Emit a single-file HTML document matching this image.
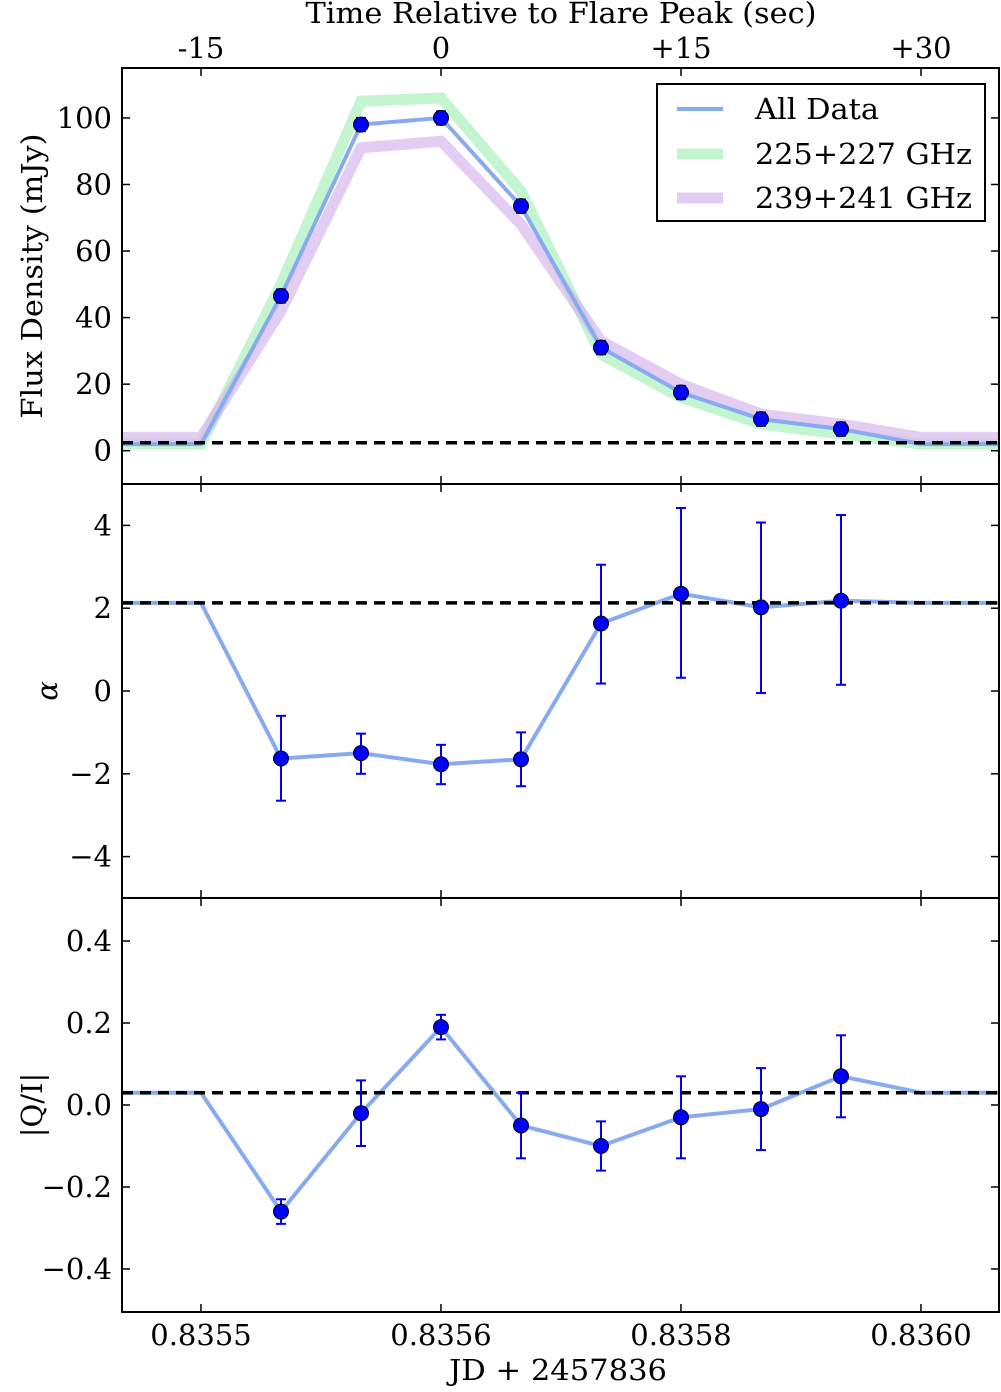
<!DOCTYPE html>
<html><head><meta charset="utf-8"><style>
body{margin:0;background:#fff}
svg text{font-family:"DejaVu Serif","Liberation Serif",serif;font-size:29px;fill:#000}
</style></head><body>
<svg id="chart" width="1001" height="1387" viewBox="0 0 1001 1387" xmlns="http://www.w3.org/2000/svg"></svg>
<script>
const times=[-20,-15,-10,-5,0,5,10,15,20,25,30,35];
const fluxAll=[2,2,46.5,98,100,73.5,31,17.5,9.5,6.5,2,2];
const fluxLow=[2,2,50,105,106,78,29,16,8,5,2,2];
const fluxHigh=[4,4,42,91,93,68,33,20,11,8,4,4];
const ptTimes=[-10,-5,0,5,10,15,20,25];
const fluxPts=[46.5,98,100,73.5,31,17.5,9.5,6.5];
const fluxErr=[2,2,2,2,2,2,2,2];
const alphaLine=[2.13,2.13,-1.63,-1.5,-1.77,-1.65,1.63,2.35,2.02,2.18,2.13,2.13];
const alphaPts=[-1.63,-1.5,-1.77,-1.65,1.63,2.35,2.02,2.18];
const alphaHi=[-0.6,-1.03,-1.3,-1.0,3.05,4.42,4.07,4.25];
const alphaLo=[-2.65,-2.0,-2.25,-2.3,0.18,0.32,-0.05,0.15];
const qiLine=[0.03,0.03,-0.26,-0.02,0.19,-0.05,-0.1,-0.03,-0.01,0.07,0.03,0.03];
const qiPts=[-0.26,-0.02,0.19,-0.05,-0.1,-0.03,-0.01,0.07];
const qiHi=[-0.23,0.06,0.22,0.03,-0.04,0.07,0.09,0.17];
const qiLo=[-0.29,-0.1,0.16,-0.13,-0.16,-0.13,-0.11,-0.03];
const topTicks=[-15,0,15,30];const topLabels=["-15","0","+15","+30"];
const botLabels=["0.8355","0.8356","0.8358","0.8360"];
const fluxTicks=[0,20,40,60,80,100];const alphaTicks=[-4,-2,0,2,4];const qiTicks=[-0.4,-0.2,0.0,0.2,0.4];
const qiLabels=["\u22120.4","\u22120.2","0.0","0.2","0.4"];
const fluxBase=2.4,alphaBase=2.13,qiBase=0.03;
const NS="http://www.w3.org/2000/svg",svg=document.getElementById('chart');
const L=122,R=999;
const X=t=>441+t*16;
function mk(tag,attrs,name,parent){const e=document.createElementNS(NS,tag);for(const k in attrs)e.setAttribute(k,attrs[k]);


(parent||svg).appendChild(e);return e;}
function txt(x,y,s,name,anchor,extra){const t=mk('text',Object.assign({x:x,y:y,'text-anchor':anchor||'middle'},extra||{}),name);t.textContent=s;return t;}
function panel(top,bot,lo,hi,name){
 const Y=v=>bot-(v-lo)/(hi-lo)*(bot-top);
 const g=mk('g',{},name);
 return {Y,g,top,bot};
}
function path(P,vals,Y,style,name){let d='';times.forEach((t,i)=>{d+=(i?'L':'M')+X(t)+','+Y(vals[i]);});
 const p=mk('path',Object.assign({d:d,fill:'none'},style),name,P.g);
 p.setAttribute('clip-path','url(#clip'+P.top+')');}
function dashed(P,v,name){mk('line',{x1:L,x2:R,y1:P.Y(v),y2:P.Y(v),stroke:'#000','stroke-width':3.5,'stroke-dasharray':'11,7'},name,P.g);}
function points(P,vals,hi,lo,name){ptTimes.forEach((t,i)=>{const x=X(t);
 mk('line',{x1:x,x2:x,y1:P.Y(hi[i]),y2:P.Y(lo[i]),stroke:'#0000ee','stroke-width':2},name+'-errbar',P.g);
 mk('line',{x1:x-5,x2:x+5,y1:P.Y(hi[i]),y2:P.Y(hi[i]),stroke:'#0000ee','stroke-width':2},name+'-errcap',P.g);
 mk('line',{x1:x-5,x2:x+5,y1:P.Y(lo[i]),y2:P.Y(lo[i]),stroke:'#0000ee','stroke-width':2},name+'-errcap',P.g);
 mk('circle',{cx:x,cy:P.Y(vals[i]),r:7.5,fill:'#0000ff',stroke:'#000','stroke-width':1},name+'-point',P.g);});}
function frame(P,ticks,labels,name){
 mk('rect',{x:L,y:P.top,width:R-L,height:P.bot-P.top,fill:'none',stroke:'#000','stroke-width':2},name+'-frame');
 ticks.forEach((v,i)=>{const y=P.Y(v);
  mk('line',{x1:L,x2:L+8,y1:y,y2:y,stroke:'#000','stroke-width':1.5},name+'-ytick');
  mk('line',{x1:R-8,x2:R,y1:y,y2:y,stroke:'#000','stroke-width':1.5},name+'-ytick');
  txt(L-10,y+10,labels[i],name+'-ytick-label','end');});
 topTicks.forEach(t=>{const x=X(t);
  mk('line',{x1:x,x2:x,y1:P.top,y2:P.top+8,stroke:'#000','stroke-width':1.5},name+'-xtick');
  mk('line',{x1:x,x2:x,y1:P.bot-8,y2:P.bot,stroke:'#000','stroke-width':1.5},name+'-xtick');});
}
const defs=mk('defs',{},'defs');
[[68,484],[484,898],[898,1312]].forEach(([a,b])=>{const c=mk('clipPath',{id:'clip'+a},'clip',defs);mk('rect',{x:L,y:a,width:R-L,height:b-a},'clip-rect',c);});
const P1=panel(68,484,-10,115,'flux-panel');
path(P1,fluxLow,P1.Y,{stroke:'#99eeb0','stroke-width':11,'stroke-opacity':0.6},'flux-225-227-line');
path(P1,fluxHigh,P1.Y,{stroke:'#d8b8ee','stroke-width':11,'stroke-opacity':0.7},'flux-239-241-line');
path(P1,fluxAll,P1.Y,{stroke:'#88aaee','stroke-width':4},'flux-all-line');
dashed(P1,fluxBase,'flux-baseline');
points(P1,fluxPts,fluxPts.map((v,i)=>v+fluxErr[i]),fluxPts.map((v,i)=>v-fluxErr[i]),'flux');
frame(P1,fluxTicks,fluxTicks.map(String),'flux-panel');
const P2=panel(484,898,-5,5,'alpha-panel');
path(P2,alphaLine,P2.Y,{stroke:'#88aaee','stroke-width':4},'alpha-line');
dashed(P2,alphaBase,'alpha-baseline');
points(P2,alphaPts,alphaHi,alphaLo,'alpha');
frame(P2,alphaTicks,alphaTicks.map(v=>v<0?'\u2212'+(-v):String(v)),'alpha-panel');
const P3=panel(898,1312,-0.505,0.505,'qi-panel');
path(P3,qiLine,P3.Y,{stroke:'#88aaee','stroke-width':4},'qi-line');
dashed(P3,qiBase,'qi-baseline');
points(P3,qiPts,qiHi,qiLo,'qi');
frame(P3,qiTicks,qiLabels,'qi-panel');
topTicks.forEach((t,i)=>{txt(X(t),58,topLabels[i],'top-xtick-label');txt(X(t),1345,botLabels[i],'bottom-xtick-label');});
txt(561,23,'Time Relative to Flare Peak (sec)','top-x-axis-title','middle',{textLength:511,lengthAdjust:'spacingAndGlyphs'});
txt(558,1380,'JD + 2457836','x-axis-title','middle',{textLength:218,lengthAdjust:'spacingAndGlyphs'});
txt(42,276,'Flux Density (mJy)','flux-y-axis-title','middle',{transform:'rotate(-90 42 276)',textLength:285,lengthAdjust:'spacingAndGlyphs'});
txt(57,691,'α','alpha-y-axis-title','middle',{transform:'rotate(-90 57 691)','font-style':'italic','font-size':'24px'});
txt(42,1105,'|Q/I|','qi-y-axis-title','middle',{transform:'rotate(-90 42 1105)'});
mk('rect',{x:657,y:84,width:328,height:137,fill:'#fff',stroke:'#000','stroke-width':2},'legend-box');
mk('line',{x1:677,x2:723,y1:109,y2:109,stroke:'#88aaee','stroke-width':4},'legend-all-swatch');
mk('line',{x1:677,x2:723,y1:154,y2:154,stroke:'#99eeb0','stroke-width':11,'stroke-opacity':0.6},'legend-225-swatch');
mk('line',{x1:677,x2:723,y1:198,y2:198,stroke:'#d8b8ee','stroke-width':11,'stroke-opacity':0.7},'legend-239-swatch');
txt(755,119,'All Data','legend-all-label','start',{'font-size':'30px',textLength:124,lengthAdjust:'spacingAndGlyphs'});
txt(755,164,'225+227 GHz','legend-225-label','start',{'font-size':'30px',textLength:217,lengthAdjust:'spacingAndGlyphs'});
txt(755,208,'239+241 GHz','legend-239-label','start',{'font-size':'30px',textLength:217,lengthAdjust:'spacingAndGlyphs'});
</script>
</body></html>
